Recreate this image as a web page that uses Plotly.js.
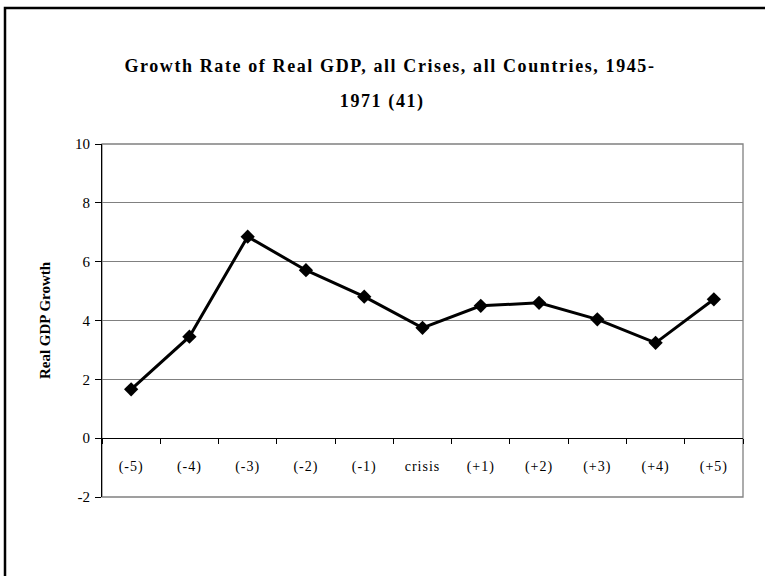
<!DOCTYPE html>
<html>
<head>
<meta charset="utf-8">
<script src="https://cdn.plot.ly/plotly-3.0.1.min.js"></script>
<style>
html,body{margin:0;padding:0;background:#fff;}
#chart{width:765px;height:576px;}
#chart .gtitle, #chart .annotation-text{letter-spacing:1.6px;}
#chart .xtick text{letter-spacing:1px;}
</style>
</head>
<body>
<div id="chart"></div>
<script>
const categories = ["(-5)", "(-4)", "(-3)", "(-2)", "(-1)", "crisis", "(+1)", "(+2)", "(+3)", "(+4)", "(+5)"];
const growth = [1.66, 3.45, 6.85, 5.71, 4.81, 3.75, 4.50, 4.60, 4.04, 3.24, 4.72];
const yTicks = [-2, 0, 2, 4, 6, 8, 10];
const titleLine1 = "Growth Rate of Real GDP, all Crises, all Countries, 1945-";
const titleLine2 = "1971 (41)";

const serif = "Liberation Serif, Times New Roman, serif";

const trace = {
  type: "scatter",
  mode: "lines+markers",
  x: categories,
  y: growth,
  line: {color: "#000", width: 3},
  marker: {symbol: "diamond", size: 11, color: "#000"},
  hoverinfo: "skip",
  cliponaxis: false
};

const layout = {
  width: 765,
  height: 576,
  margin: {l: 102, r: 22, t: 144, b: 79},
  paper_bgcolor: "#fff",
  plot_bgcolor: "#fff",
  showlegend: false,
  title: {
    text: "<b>" + titleLine1 + "</b>",
    font: {family: serif, size: 18, color: "#000"},
    x: 390 / 765, xanchor: "center",
    y: 1 - 66 / 576, yanchor: "middle"
  },
  annotations: [
    {text: "<b>" + titleLine2 + "</b>", xref: "paper", yref: "paper",
     x: (382 - 102) / 641, y: (497 - 102) / 353, xanchor: "center", yanchor: "middle",
     showarrow: false, font: {family: serif, size: 18, color: "#000"}}
  ],
  xaxis: {
    type: "category",
    categoryorder: "array",
    categoryarray: categories,
    anchor: "free",
    position: 2 / 12,
    showline: true,
    linecolor: "#000",
    linewidth: 1,
    showgrid: false,
    zeroline: false,
    ticks: "outside",
    ticklen: 5,
    tickcolor: "#000",
    tickson: "boundaries",
    ticklabelstandoff: 15,
    tickfont: {family: serif, size: 14, color: "#000"},
    range: [-0.5, 10.5],
    fixedrange: true
  },
  yaxis: {
    range: [-2, 10],
    tickmode: "array",
    tickvals: yTicks,
    ticktext: yTicks.map(String),
    showline: true,
    linecolor: "#000",
    linewidth: 1,
    ticks: "outside",
    ticklen: 6,
    tickcolor: "#000",
    ticklabelstandoff: 2,
    showgrid: true,
    gridcolor: "#808080",
    gridwidth: 1.3,
    zeroline: false,
    tickfont: {family: serif, size: 15, color: "#000"},
    title: {
      text: "<b>Real GDP Growth</b>",
      font: {family: serif, size: 15, color: "#000"},
      standoff: 20
    },
    fixedrange: true
  },
  shapes: [
    {type: "rect", xref: "paper", yref: "paper", x0: 0, x1: 1, y0: 0, y1: 1,
     line: {color: "#808080", width: 1.3}, layer: "below"},
    {type: "rect", xref: "paper", yref: "paper",
     x0: (5 - 102) / 641, x1: (775 - 102) / 641,
     y0: (497 - 590) / 353, y1: (497 - 8) / 353,
     line: {color: "#000", width: 2.5}, fillcolor: "rgba(0,0,0,0)", layer: "above"}
  ]
};

Plotly.newPlot("chart", [trace], layout, {displayModeBar: false, staticPlot: true});
</script>
</body>
</html>
